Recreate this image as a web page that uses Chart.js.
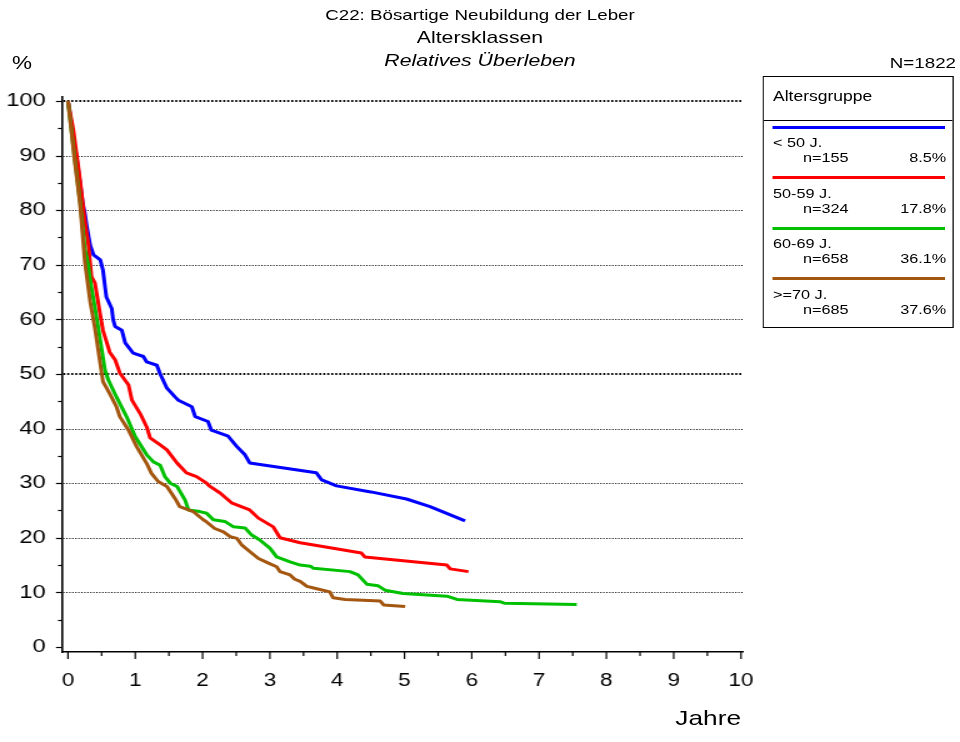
<!DOCTYPE html>
<html><head><meta charset="utf-8">
<script src="https://cdn.jsdelivr.net/npm/chart.js@4.4.1/dist/chart.umd.min.js"></script>
<style>
html,body{margin:0;padding:0;background:#fff;overflow:hidden;width:960px;height:742px}
#wrap{position:absolute;left:0;top:0;width:768px;height:742px;transform:scaleX(1.25);transform-origin:0 0;font-family:"Liberation Sans",Arial,sans-serif;color:#000}
#wrap canvas{position:absolute;left:0;top:0}
.t{position:absolute;white-space:nowrap;line-height:1}
#legend{position:absolute;left:610.4px;top:75.5px;width:151px;height:250px;border:1px solid #000}
</style></head><body>
<div id="wrap">
<canvas id="c" width="768" height="742" style="width:768px;height:742px"></canvas>
<div class="t" style="left:0;width:768px;text-align:center;top:7px;font-size:15px">C22: Bösartige Neubildung der Leber</div>
<div class="t" style="left:0;width:768px;text-align:center;top:29px;font-size:17px">Altersklassen</div>
<div class="t" style="left:0;width:768px;text-align:center;top:51.5px;font-size:17px;font-style:italic">Relatives Überleben</div>
<div class="t" style="left:9.6px;top:53.5px;font-size:18px">%</div>
<div class="t" id="ntotal" style="right:3.2px;top:54.5px;font-size:15px"></div>
<div class="t" style="right:175.2px;top:707px;font-size:21px">Jahre</div>
<div id="legend"></div>
</div>
<script>
// ---- data ----
const groupLabels = ["< 50 J.", "50-59 J.", "60-69 J.", ">=70 J."];
const groupN = [155, 324, 658, 685];
const groupPct = ["8.5%", "17.8%", "36.1%", "37.6%"];
const totalN = 1822;
const groupColors = ["#0000ff", "#ff0000", "#00c000", "#a3560f"];

const yearsLt50 = [0,0.03,0.08,0.13,0.18,0.22,0.25,0.28,0.33,0.38,0.48,0.52,0.55,0.57,0.65,0.67,0.70,0.80,0.85,0.97,1.12,1.17,1.32,1.37,1.47,1.59,1.64,1.84,1.89,2.08,2.13,2.38,2.51,2.63,2.70,3.69,3.77,3.99,4.5,5.03,5.38,5.90];
const survLt50  = [100,97.6,93,89.5,85,81.2,79.5,77,73.6,71.8,70.9,69,66,64.1,62,60,58.7,58,55.7,53.8,53.2,52.2,51.6,50,47.4,45.8,45.2,44,42.2,41.3,39.7,38.6,36.7,35.2,33.7,31.9,30.6,29.5,28.4,27.1,25.7,23.1];

const years5059 = [0,0.08,0.18,0.25,0.30,0.35,0.40,0.45,0.48,0.52,0.62,0.70,0.77,0.90,0.95,1.07,1.17,1.22,1.37,1.47,1.62,1.76,1.91,2.06,2.11,2.26,2.43,2.70,2.83,3.05,3.15,3.45,3.74,4.36,4.41,5.63,5.68,5.95];
const surv5059  = [100,94.7,85.5,78,74,67.8,66.7,63,60.8,58,54,52.6,50.2,48,45.2,42.8,40.3,38.3,37,36.1,33.7,31.9,31.2,30,29.4,28.2,26.4,25.1,23.6,22,20,19.1,18.5,17.2,16.5,15,14.3,13.8];

const years6069 = [0,0.10,0.18,0.25,0.30,0.33,0.43,0.55,0.60,0.72,0.87,1.0,1.17,1.27,1.37,1.44,1.52,1.62,1.74,1.79,1.96,2.06,2.16,2.33,2.46,2.63,2.73,2.85,3.0,3.10,3.30,3.45,3.60,3.65,4.19,4.31,4.44,4.61,4.71,4.98,5.63,5.78,6.42,6.49,7.56];
const surv6069  = [100,89.5,81.5,73,70,67.2,60,50.7,48.9,45.8,42.2,38.5,35.2,33.9,33.3,31.2,30,29.4,26.9,25.1,24.8,24.5,23.3,23,22,21.8,20.5,19.6,18.1,16.5,15.6,15,14.8,14.4,13.8,13.2,11.5,11.2,10.4,9.8,9.3,8.7,8.3,8.0,7.8];

const years70 = [0,0.10,0.18,0.25,0.33,0.40,0.52,0.62,0.72,0.77,0.90,1.02,1.17,1.24,1.34,1.47,1.59,1.66,1.86,2.01,2.06,2.18,2.31,2.41,2.51,2.58,2.70,2.83,2.97,3.10,3.15,3.30,3.37,3.45,3.55,3.65,3.89,3.94,4.12,4.64,4.69,5.01];
const surv70  = [100,89,81,70.6,63.2,58.4,48.6,46.4,44,42.2,39.7,36.7,33.6,31.8,30.3,29.4,27.2,25.7,24.8,23.3,22.9,21.7,21.1,20.2,19.9,18.7,17.5,16.2,15.4,14.7,13.8,13.2,12.4,12,11.1,10.8,10.1,9.0,8.7,8.4,7.7,7.4];

const xTickValues = [0,1,2,3,4,5,6,7,8,9,10];
const xMinorValues = [0.5,1.5,2.5,3.5,4.5,5.5,6.5,7.5,8.5,9.5];
const yTickValues = [0,10,20,30,40,50,60,70,80,90,100];
const yMinorValues = [5,15,25,35,45,55,65,75,85,95];
const yGridValues = [10,20,30,40,50,60,70,80,90,100];
const yBoldGrid = [50,100];

const seriesX = [yearsLt50, years5059, years6069, years70];
const seriesY = [survLt50, surv5059, surv6069, surv70];

// ---- legend (HTML text) ----
document.getElementById('ntotal').textContent = 'N=' + totalN;
const lg = document.getElementById('legend');
let html = '<div class="t" style="left:7px;top:12.5px;font-size:14px">Altersgruppe</div>' +
  '<div style="position:absolute;left:0;top:43px;width:151px;border-top:1px solid #000"></div>';
groupLabels.forEach((lab, i) => {
  const off = 50.5 * i;
  html += `<div style="position:absolute;left:6.2px;top:${49 + off}px;width:138.4px;height:3px;background:${groupColors[i]}"></div>`;
  html += `<div class="t" style="left:7px;top:${59.5 + off}px;font-size:13px">${lab.replace('<','&lt;')}</div>`;
  html += `<div class="t" style="left:31px;top:${74.5 + off}px;font-size:13px">n=${groupN[i]}</div>`;
  html += `<div class="t" style="right:5.4px;top:${74.5 + off}px;font-size:13px">${groupPct[i]}</div>`;
});
lg.innerHTML = html;

// ---- chart ----
const fam = "'Liberation Sans', Arial, sans-serif";

const axisPlugin = {
  id: 'axisDeco',
  beforeDatasetsDraw(chart) {
    const {ctx, chartArea: a, scales: {x, y}} = chart;
    ctx.save();
    ctx.strokeStyle = '#000';
    yGridValues.forEach(v => {
      const bold = yBoldGrid.includes(v);
      const py = Math.round(y.getPixelForValue(v)) + (bold ? 0 : 0.5);
      ctx.lineWidth = bold ? 2 : 1;
      ctx.setLineDash(bold ? [1.6, 1.6] : [1, 1.4]);
      ctx.beginPath(); ctx.moveTo(a.left + 1, py); ctx.lineTo(a.right, py); ctx.stroke();
    });
    ctx.setLineDash([]);
    ctx.lineWidth = 1.2;
    yTickValues.concat(yMinorValues).forEach(v => {
      const py = Math.round(y.getPixelForValue(v)) + 0.5;
      const len = yTickValues.includes(v) ? 4.8 : 3.2;
      ctx.beginPath(); ctx.moveTo(a.left - len, py); ctx.lineTo(a.left, py); ctx.stroke();
    });
    xTickValues.concat(xMinorValues).forEach(v => {
      const px = x.getPixelForValue(v);
      const len = xTickValues.includes(v) ? 7 : 4;
      ctx.beginPath(); ctx.moveTo(px, a.bottom); ctx.lineTo(px, a.bottom + len); ctx.stroke();
    });
    ctx.restore();
  }
};

const datasets = [];
for (let i = groupLabels.length - 1; i >= 0; i--) {
  datasets.push({
    label: groupLabels[i],
    data: seriesX[i].map((xv, k) => ({x: xv, y: seriesY[i][k]})),
    borderColor: groupColors[i],
    backgroundColor: groupColors[i],
    borderWidth: 3,
    pointRadius: 0,
    tension: 0,
    fill: false,
    borderJoinStyle: 'round'
  });
}

new Chart(document.getElementById('c'), {
  type: 'line',
  data: {datasets},
  options: {
    responsive: false,
    animation: false,
    events: [],
    layout: {padding: {left: 0, top: 97, right: 173.6, bottom: 0}},
    plugins: {legend: {display: false}, tooltip: {enabled: false}, title: {display: false}},
    scales: {
      x: {
        type: 'linear', min: -0.089, max: 10.03,
        afterFit: s => { s.height = 90; },
        afterBuildTicks: s => { s.ticks = xTickValues.map(v => ({value: v})); },
        grid: {display: false},
        border: {display: true, color: '#000', width: 1.6},
        ticks: {color: '#000', font: {family: fam, size: 18}, padding: 10, maxRotation: 0, autoSkip: false,
                callback: v => String(v)}
      },
      y: {
        type: 'linear', min: -0.92, max: 100.73,
        afterFit: s => { s.width = 49.6; },
        afterBuildTicks: s => { s.ticks = yTickValues.map(v => ({value: v})); },
        grid: {display: false},
        border: {display: true, color: '#000', width: 1.6},
        ticks: {color: '#000', font: {family: fam, size: 19}, padding: 5, autoSkip: false,
                callback: v => String(v)}
      }
    }
  },
  plugins: [axisPlugin]
});
</script>
</body></html>
